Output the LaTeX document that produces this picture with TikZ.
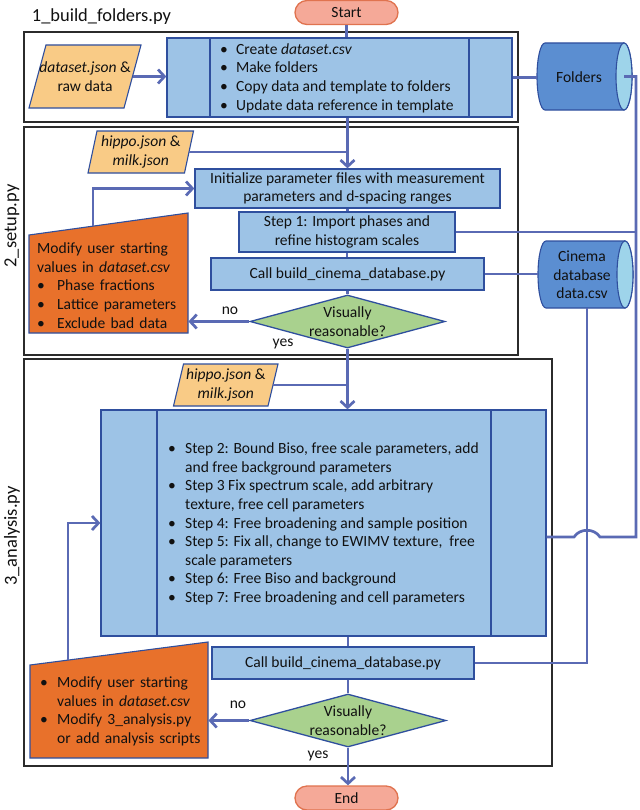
\documentclass[tikz,border=0pt]{standalone}
\usepackage{fontspec}
\setmainfont{Carlito}
\usetikzlibrary{arrows.meta,shapes.geometric,calc}
\definecolor{lnc}{HTML}{5A6AB4}
\definecolor{bfill}{HTML}{9DC3E6}
\definecolor{bdraw}{HTML}{2F4F9E}
\definecolor{ofill}{HTML}{E8712B}
\definecolor{gfill}{HTML}{A9D18E}
\definecolor{pfill}{HTML}{F9CB86}
\definecolor{sfill}{HTML}{F5A998}
\definecolor{sdraw}{HTML}{E0734F}
\definecolor{cylbody}{HTML}{5B8ED1}
\definecolor{cylend}{HTML}{9ED4EA}
\definecolor{secline}{HTML}{2B2B2B}
\definecolor{txt}{HTML}{111111}
\newcommand\bul[1]{\makebox[#1][l]{•}}
% parallelogram: name, cx, cy, midwidth, height, slant, text
\newcommand\para[7]{%
  \filldraw[fill=pfill, draw=bdraw, line width=1.1bp] (#2-#4/2-#6/2,#3+#5/2) -- (#2-#4/2+#6/2,#3-#5/2) -- (#2+#4/2+#6/2,#3-#5/2) -- (#2+#4/2-#6/2,#3+#5/2) -- cycle;
  \node[minimum width=#4bp, minimum height=#5bp, align=center] (#1) at (#2,#3) {#7};}
% cylinder: left, top, right, bottom, rx, ry
\newcommand\cyl[6]{%
  \filldraw[fill=cylbody, draw=bdraw, line width=1.1bp] (#3-#5,#2) -- (#1+#5,#2) arc[start angle=90, end angle=270, x radius=#5bp, y radius=#6bp] -- (#3-#5,#4) arc[start angle=-90, end angle=90, x radius=#5bp, y radius=#6bp] -- cycle;
  \filldraw[fill=cylend, draw=bdraw, line width=1.1bp] (#3-#5,{(#2+#4)/2}) ellipse[x radius=#5bp, y radius=#6bp];}
\begin{document}
\begin{tikzpicture}[x=1bp,y=-1bp,
  every node/.style={font=\fontsize{15.6}{18.7}\selectfont, text=txt, inner sep=0pt},
  sec/.style={draw=secline, line width=1.6bp},
  proc/.style={draw=bdraw, fill=bfill, line width=1.3bp, align=center},
  conn/.style={draw=lnc, line width=2.7bp},
  arr/.style={conn, -{Straight Barb[length=6.5bp,width=14bp]}},
  term/.style={draw=sdraw, fill=sfill, line width=1.3bp, rounded corners=12bp, minimum width=103bp, minimum height=24bp},
  dia/.style={diamond, draw=bdraw, fill=gfill, line width=1.3bp},
  lbl/.style={font=\fontsize{18.5}{22}\selectfont},
]
\useasboundingbox (0,0) rectangle (640,810);
\fill[white] (0,0) rectangle (640,810);
% sections
\draw[sec] (24,32) rectangle (518,122);
\draw[sec] (24,127) rectangle (518,355);
\draw[sec] (24,359) rectangle (552,766);
\node[lbl] (t1) at (101.5,17) {1\_build\_folders.py};
\node[lbl, rotate=90] (t2) at (12,226) {2\_setup.py};
\node[lbl, rotate=90] (t3) at (12,536) {3\_analysis.py};
% start / end
\node[term] (start) at (346.5,12.5) {Start};
\node[term] (end) at (346.5,798) {End};
% section 1
\node[proc, minimum width=345bp, minimum height=79bp] (p1) at (339.5,77.5) {};
\draw[bdraw, line width=1.3bp] (210,38) -- (210,117) (469,38) -- (469,117);
\node[anchor=west, align=left] (p1t) at (220,78) {\bul{16bp}Create \textit{dataset.csv}\\\bul{16bp}Make folders\\\bul{16bp}Copy data and template to folders\\\bul{16bp}Update data reference in template};
\para{dj}{85}{76.5}{95}{63}{17}{\textit{dataset.json} \&\\raw data}
\cyl{537}{43}{632}{110}{8}{33.5}
\node[minimum width=95bp, minimum height=67bp] (folders) at (584.5,76.5) {};
\node (foldtxt) at (579,77) {Folders};
\cyl{538}{241}{633}{308}{8}{33.5}
\node[minimum width=95bp, minimum height=67bp] (cinema) at (585.5,274.5) {};
\node[align=center] (cintxt) at (582,275) {Cinema\\database\\data.csv};
% section 2
\para{h2}{140.75}{152}{96.5}{42}{9}{\textit{hippo.json} \&\\\textit{milk.json}}
\node[proc, minimum width=305bp, minimum height=39bp] (init) at (347.5,188.5) {Initialize parameter files with measurement\\parameters and d-spacing ranges};
\node[proc, minimum width=216bp, minimum height=40bp] (s1) at (347,232) {Step 1: Import phases and\\refine histogram scales};
\node[proc, minimum width=273bp, minimum height=32bp] (call2) at (347.5,274) {Call build\_cinema\_database.py};
\node[dia, minimum width=195bp, minimum height=53bp] (d2) at (347.5,321.5) {};
\node[align=center] (d2t) at (347.5,321.5) {Visually\\reasonable?};
\filldraw[fill=ofill, draw=bdraw, line width=1.1bp] (29,235) -- (188,213) -- (188,333) -- (29,333) -- cycle;
\node[anchor=west, text width=151bp, align=left] (o2) at (37,285.5) {Modify user starting\\values in \textit{dataset.csv}\\\bul{20bp}Phase fractions\\\bul{20bp}Lattice parameters\\\bul{20bp}Exclude bad data};
\coordinate (o2top) at (93,226.2);
\node (no2) at (230,311) {no};
\node (yes2) at (283,344) {yes};
% section 3
\para{h3}{225.75}{385}{94.5}{42}{10}{\textit{hippo.json} \&\\\textit{milk.json}}
\node[proc, minimum width=445bp, minimum height=226bp] (p3) at (323.5,523) {};
\draw[bdraw, line width=1.3bp] (157,410) -- (157,636) (491,410) -- (491,636);
\node[anchor=west, align=left] (p3t) at (168,524) {\bul{17bp}Step 2: Bound Biso, free scale parameters, add\\\hspace*{17bp}and free background parameters\\\bul{17bp}Step 3 Fix spectrum scale, add arbitrary\\\hspace*{17bp}texture, free cell parameters\\\bul{17bp}Step 4: Free broadening and sample position\\\bul{17bp}Step 5: Fix all, change to EWIMV texture, \ free\\\hspace*{17bp}scale parameters\\\bul{17bp}Step 6: Free Biso and background\\\bul{17bp}Step 7: Free broadening and cell parameters};
\node[proc, minimum width=262bp, minimum height=32bp] (call3) at (343,663) {Call build\_cinema\_database.py};
\node[dia, minimum width=196bp, minimum height=53bp] (d3) at (348,720.5) {};
\node[align=center] (d3t) at (348,720.5) {Visually\\reasonable?};
\filldraw[fill=ofill, draw=bdraw, line width=1.1bp] (30,665) -- (208,642) -- (208,758) -- (30,758) -- cycle;
\node[anchor=west, text width=168bp, align=left] (o3) at (40,711.5) {\bul{17bp}Modify user starting\\\hspace*{17bp}values in \textit{dataset.csv}\\\bul{17bp}Modify 3\_analysis.py\\\hspace*{17bp}or add analysis scripts};
\coordinate (o3top) at (68,660);
\node (no3) at (238,705) {no};
\node (yes3) at (318,756) {yes};
% connectors
\coordinate (fe) at ($(folders.east)+(-8,0)$);
\coordinate (rc) at (636,537);
\draw[conn] (start.south) -- (start.south |- p1.north);
\draw[arr] (dj.east) -- (dj.east -| p1.west);
\draw[conn] (p1.east) -- (p1.east -| folders.west);
\draw[conn] (fe) -| (rc) -- (600,537) .. controls (594,528) and (580,528) .. (574,537) -- (p3.east |- rc);
\draw[conn] (s1.east) -- (s1.east -| rc);
\draw[conn] (call2.east) -- (call2.east -| cinema.west);
\draw[conn] ([xshift=1.5bp]cinema.south) |- (call3.east);
\draw[arr] (init.north |- p1.south) -- (init.north);
\draw[conn] (h2.east) -- (h2.east -| init.north);
\draw[conn] (init.south) -- (init.south |- s1.north);
\draw[conn] (s1.south) -- (s1.south |- call2.north);
\draw[conn] (call2.south) -- (call2.south |- d2.north);
\draw[arr] (d2.west) -- (d2.west -| o2.east);
\draw[arr] (o2top) |- (init.west);
\draw[arr] (d2.south) -- (d2.south |- p3.north);
\draw[conn] (h3.east) -- (h3.east -| d2.south);
\draw[arr] (o3top) |- (p3.west);
\draw[conn] (d3.north |- p3.south) -- (d3.north |- call3.north);
\draw[conn] (d3.north |- call3.south) -- (d3.north);
\draw[arr] (d3.west) -- (d3.west -| o3.east);
\draw[arr] (d3.south) -- (d3.south |- end.north);
\end{tikzpicture}
\end{document}
